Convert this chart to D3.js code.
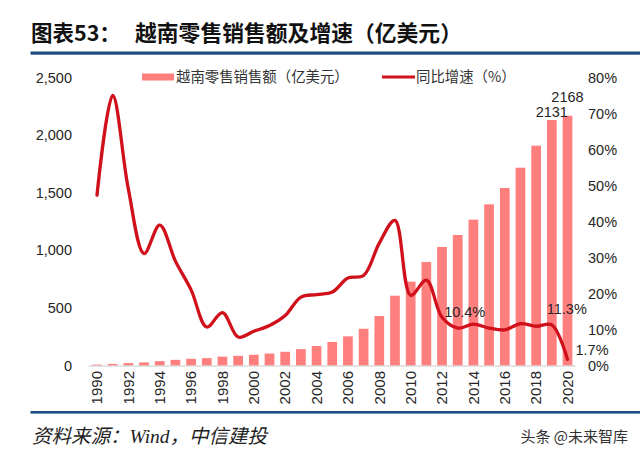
<!DOCTYPE html>
<html><head><meta charset="utf-8">
<script src="https://cdn.jsdelivr.net/npm/d3@7"></script>
<style>body{margin:0;background:#fff} svg{display:block}</style>
</head><body>
<svg id="c" width="640" height="461"></svg>
<script>
// ---- data ----
const years = ["1990","1991","1992","1993","1994","1995","1996","1997","1998","1999","2000","2001","2002","2003","2004","2005","2006","2007","2008","2009","2010","2011","2012","2013","2014","2015","2016","2017","2018","2019","2020"];
const salesValues = [8,14,21,27,38,49,58,64,77,84,93,104,119,142,169,204,253,319,430,606,728,899,1029,1133,1266,1399,1541,1717,1908,2131,2168];
const growthValues = [47.3,75,49,31.1,39,29,21,10.7,14.7,7.9,9.5,11.1,13.9,19,19.7,20.4,24.3,25,34,40.3,19.5,23.7,13.4,10.4,11.5,10.4,9.9,11.6,10.9,11.3,1.7];
const leftTicks = [0,500,1000,1500,2000,2500];
const rightTicks = [0,10,20,30,40,50,60,70,80];
const xTickYears = ["1990","1992","1994","1996","1998","2000","2002","2004","2006","2008","2010","2012","2014","2016","2018","2020"];
const barLabelYears = ["2019","2020"];
const lineLabelYears = ["2013","2019","2020"];
const titleLeft = "图表53：";
const titleRight = "越南零售销售额及增速（亿美元）";
const legendBar = "越南零售销售额（亿美元）";
const legendLine = "同比增速（%）";
const sourceText = "资料来源：Wind，中信建投";
const watermark = "头条 @未来智库";

// ---- drawing ----
const svg = d3.select("#c");
const barColor = "#ff7f7f", lineColor = "#d0101a", textColor = "#262626";
const sansFont = "'Liberation Sans', Arial, 'Noto Sans CJK SC', sans-serif";

const x = d3.scaleBand().domain(years).range([89, 575.5]).paddingInner(0.38).paddingOuter(0.2);
const yL = d3.scaleLinear().domain([0, 2500]).range([365.5, 77.5]);
const yR = d3.scaleLinear().domain([0, 80]).range([365.5, 77.5]);
const cx = d => x(d) + x.bandwidth() / 2;

// title
svg.append("text").attr("x", 31).attr("y", 41)
  .attr("font-family", "'Noto Sans CJK SC', sans-serif").attr("font-weight", 700)
  .attr("font-size", 21.5).attr("fill", "#111").text(titleLeft);
svg.append("text").attr("x", 135).attr("y", 41)
  .attr("font-family", "'Noto Sans CJK SC', sans-serif").attr("font-weight", 700)
  .attr("font-size", 21.8).attr("fill", "#111").text(titleRight);
svg.append("rect").attr("x", 30.5).attr("y", 51.5).attr("width", 610).attr("height", 3.2).attr("fill", "#1d4c80");

// bars
svg.append("g").selectAll("rect").data(years).join("rect")
  .attr("x", d => x(d)).attr("width", x.bandwidth())
  .attr("y", (d, i) => yL(salesValues[i]))
  .attr("height", (d, i) => yL(0) - yL(salesValues[i]))
  .attr("fill", barColor);

// x axis baseline
svg.append("line").attr("x1", 89).attr("x2", 575.5).attr("y1", 366).attr("y2", 366)
  .attr("stroke", "#c8c8c8").attr("stroke-width", 1);

// left axis
const gL = svg.append("g").attr("transform", "translate(88,0)")
  .call(d3.axisLeft(yL).tickValues(leftTicks).tickFormat(d3.format(",")).tickSize(0).tickPadding(16));
gL.select(".domain").remove();
gL.selectAll("text").attr("font-family", sansFont).attr("font-size", 14.5).attr("fill", textColor);

// right axis
const gR = svg.append("g").attr("transform", "translate(576,0)")
  .call(d3.axisRight(yR).tickValues(rightTicks).tickFormat(d => d + "%").tickSize(0).tickPadding(12));
gR.select(".domain").remove();
gR.selectAll("text").attr("font-family", sansFont).attr("font-size", 14.5).attr("fill", textColor);

// x axis labels
const gX = svg.append("g").attr("transform", "translate(0,366)")
  .call(d3.axisBottom(x).tickValues(xTickYears).tickSize(0).tickPadding(0));
gX.select(".domain").remove();
gX.selectAll("text").attr("font-family", sansFont).attr("font-size", 15).attr("fill", textColor)
  .attr("text-anchor", "end").attr("transform", "translate(0,5) rotate(-90)")
  .attr("x", 0).attr("y", 0).attr("dy", "0.35em");

// growth line
const line = d3.line().x(d => cx(d)).y((d, i) => yR(growthValues[i])).curve(d3.curveCatmullRom.alpha(0.5));
svg.append("path").datum(years).attr("d", line)
  .attr("fill", "none").attr("stroke", lineColor).attr("stroke-width", 3.3)
  .attr("stroke-linejoin", "round").attr("stroke-linecap", "round");

// bar labels
const barLabelOffset = {"2019": 3, "2020": 14};
svg.append("g").selectAll("text").data(barLabelYears).join("text")
  .attr("x", d => cx(d)).attr("y", d => yL(salesValues[years.indexOf(d)]) - barLabelOffset[d])
  .attr("text-anchor", "middle").attr("font-family", sansFont).attr("font-size", 14.5).attr("fill", textColor)
  .text(d => String(salesValues[years.indexOf(d)]));

// line labels
const lineLabelOffset = {"2013": [7, -11, "middle"], "2019": [15, -11, "middle"], "2020": [8, -4, "start"]};
svg.append("g").selectAll("text").data(lineLabelYears).join("text")
  .attr("x", d => cx(d) + lineLabelOffset[d][0])
  .attr("y", d => yR(growthValues[years.indexOf(d)]) + lineLabelOffset[d][1])
  .attr("text-anchor", d => lineLabelOffset[d][2])
  .attr("font-family", sansFont).attr("font-size", 14.5).attr("fill", textColor)
  .text(d => d3.format(".1f")(growthValues[years.indexOf(d)]) + "%");

// legend
const lg = svg.append("g");
lg.append("rect").attr("x", 142).attr("y", 73.5).attr("width", 32).attr("height", 7).attr("fill", barColor);
lg.append("text").attr("x", 176).attr("y", 82).attr("font-family", "'Noto Sans CJK SC', sans-serif")
  .attr("font-size", 14.4).attr("fill", "#333").text(legendBar);
lg.append("line").attr("x1", 382).attr("x2", 415).attr("y1", 77).attr("y2", 77)
  .attr("stroke", lineColor).attr("stroke-width", 3.2);
lg.append("text").attr("x", 416).attr("y", 82).attr("font-family", "'Noto Sans CJK SC', sans-serif")
  .attr("font-size", 14.4).attr("fill", "#333").text(legendLine);

// footer
svg.append("rect").attr("x", 30.5).attr("y", 411).attr("width", 610).attr("height", 2.6).attr("fill", "#1d4c80");
svg.append("text").attr("x", 32).attr("y", 443)
  .attr("font-family", "'Liberation Serif', 'Noto Sans CJK SC', serif").attr("font-style", "italic")
  .attr("font-size", 19.5).attr("fill", "#222").text(sourceText);
svg.append("text").attr("x", 628).attr("y", 442).attr("text-anchor", "end")
  .attr("font-family", "'Noto Sans CJK SC', sans-serif").attr("font-size", 15).attr("fill", "#333").text(watermark);
</script>
</body></html>
